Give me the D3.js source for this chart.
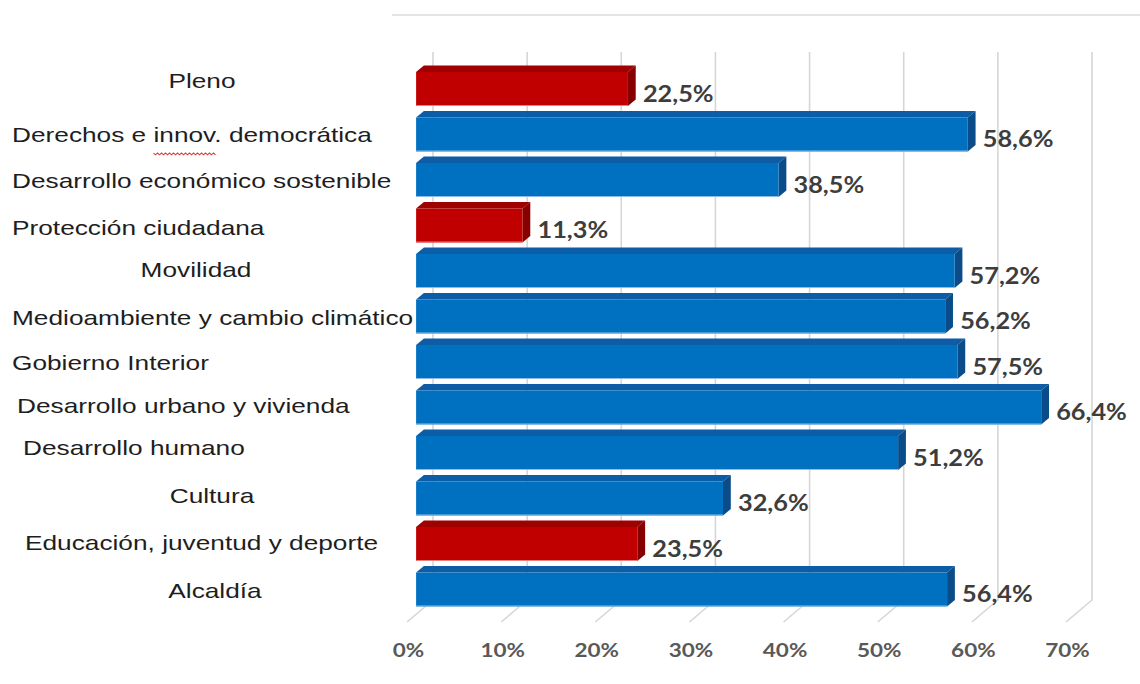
<!DOCTYPE html>
<html>
<head>
<meta charset="utf-8">
<script src="https://cdn.jsdelivr.net/npm/d3@7"></script>
<style>
  body { margin: 0; background: #fff; }
  svg { display: block; }
</style>
</head>
<body>
<svg></svg>
<script>
// chart data
const categories = [
  'Pleno',
  'Derechos e innov. democrática',
  'Desarrollo económico sostenible',
  'Protección ciudadana',
  'Movilidad',
  'Medioambiente y cambio climático',
  'Gobierno Interior',
  'Desarrollo urbano y vivienda',
  'Desarrollo humano',
  'Cultura',
  'Educación, juventud y deporte',
  'Alcaldía'
]
const values = [22.5, 58.6, 38.5, 11.3, 57.2, 56.2, 57.5, 66.4, 51.2, 32.6, 23.5, 56.4]
// red bars are the low ones
const groups = ['low', 'high', 'high', 'low', 'high', 'high', 'high', 'high', 'high', 'high', 'low', 'high']
const tickValues = [0, 10, 20, 30, 40, 50, 60, 70]

// where each category label sits (the labels were placed by hand in the original)
const labelLayout = [
  { anchor: 'middle', x: 202, dy: -1 },
  { anchor: 'start', x: 12, dy: 7.5 },
  { anchor: 'start', x: 12, dy: 8 },
  { anchor: 'start', x: 12, dy: 9.5 },
  { anchor: 'middle', x: 196, dy: 6 },
  { anchor: 'start', x: 12, dy: 8.5 },
  { anchor: 'start', x: 12, dy: 8 },
  { anchor: 'start', x: 17, dy: 5.5 },
  { anchor: 'start', x: 23, dy: 2 },
  { anchor: 'middle', x: 212, dy: 4.5 },
  { anchor: 'start', x: 25, dy: 6 },
  { anchor: 'middle', x: 215, dy: 8.5 }
]

const width = 1140
const height = 684

// 3d box: back wall origin and floor depth
const backX = 433
const wallTop = 52
const wallBottom = 600
const depthDX = -26
const depthDY = 22
const barZ0 = 0.35
const barZ1 = 0.65

const colors = {
  high: { front: '#0070c0', top: '#0d5ca6', side: '#0a4c8a', edge: '#8cbdea' },
  low: { front: '#c00000', top: '#a00000', side: '#860000', edge: '#e88080' }
}

const svg = d3.select('svg').attr('width', width).attr('height', height)

const xScale = d3.scaleLinear().domain([0, 70]).range([0, 659])
const yScale = d3.scaleBand()
  .domain(categories)
  .range([66.25, 612.25])
  .paddingInner(0.253)
  .paddingOuter(0.1265)

let px = (v, z) => backX + xScale(v) + z * depthDX

// thin line at the very top
svg.append('line')
  .attr('x1', 392).attr('x2', width)
  .attr('y1', 15).attr('y2', 15)
  .attr('stroke', '#e4e4e4')
  .attr('stroke-width', 2)

// back wall grid + floor lines
let grid = svg.append('g')
grid.selectAll('path')
  .data(tickValues)
  .enter()
  .append('path')
  .attr('d', (t) => {
    let xb = px(t, 0)
    return 'M' + xb + ',' + wallTop + 'L' + xb + ',' + wallBottom +
      'L' + px(t, 1) + ',' + (wallBottom + depthDY)
  })
  .attr('fill', 'none')
  .attr('stroke', '#d6d6d6')
  .attr('stroke-width', 1.6)

// bars
let rows = values.map((v, i) => ({ name: categories[i], value: v, group: groups[i] }))
let shift = (barZ1 - barZ0) * depthDY

let bars = svg.append('g').selectAll('g')
  .data(rows)
  .enter()
  .append('g')

// top face
bars.append('path')
  .attr('d', (d) => {
    let y = yScale(d.name)
    let x0 = px(0, barZ1), x1 = px(d.value, barZ1)
    let bx0 = px(0, barZ0), bx1 = px(d.value, barZ0)
    return 'M' + x0 + ',' + y + 'L' + bx0 + ',' + (y - shift) +
      'L' + bx1 + ',' + (y - shift) + 'L' + x1 + ',' + y + 'Z'
  })
  .attr('fill', (d) => colors[d.group].top)

// side face
bars.append('path')
  .attr('d', (d) => {
    let y = yScale(d.name)
    let h = yScale.bandwidth()
    let x1 = px(d.value, barZ1), bx1 = px(d.value, barZ0)
    return 'M' + x1 + ',' + y + 'L' + bx1 + ',' + (y - shift) +
      'L' + bx1 + ',' + (y + h - shift) + 'L' + x1 + ',' + (y + h) + 'Z'
  })
  .attr('fill', (d) => colors[d.group].side)

// front face
bars.append('rect')
  .attr('x', px(0, barZ1))
  .attr('y', (d) => yScale(d.name))
  .attr('width', (d) => xScale(d.value))
  .attr('height', yScale.bandwidth())
  .attr('fill', (d) => colors[d.group].front)

// light edge along the bottom of each bar
bars.append('line')
  .attr('x1', px(0, barZ1))
  .attr('x2', (d) => px(d.value, barZ1))
  .attr('y1', (d) => yScale(d.name) + yScale.bandwidth() - 0.5)
  .attr('y2', (d) => yScale(d.name) + yScale.bandwidth() - 0.5)
  .attr('stroke', (d) => colors[d.group].edge)
  .attr('stroke-width', 1.2)

// value labels
svg.append('g').selectAll('text')
  .data(rows)
  .enter()
  .append('text')
  .attr('transform', (d) => 'translate(' + (px(d.value, barZ1) + 15) + ',' +
    (yScale(d.name) + yScale.bandwidth() / 2 + 12.5) + ') scale(1.1,1)')
  .attr('font-family', 'Lato, sans-serif')
  .attr('font-weight', 'bold')
  .attr('font-size', 23)
  .attr('fill', '#3d3d3d')
  .text((d) => d.value.toFixed(1).replace('.', ',') + '%')

// x axis labels at the front edge of the floor
let xAxis = d3.axisBottom(xScale)
  .tickValues(tickValues)
  .tickFormat((t) => t + '%')
  .tickSize(0)

let axisG = svg.append('g')
  .attr('transform', 'translate(' + (px(0, 1) + 1) + ',657)')
  .call(xAxis)
axisG.select('.domain').remove()
axisG.selectAll('text')
  .attr('y', 0)
  .attr('dy', 0)
  .attr('transform', 'scale(1.25,1)')
  .attr('font-family', 'Lato, sans-serif')
  .attr('font-weight', 'bold')
  .attr('font-size', 18)
  .attr('fill', '#595959')

// category labels
let catLabels = svg.append('g').selectAll('text')
  .data(rows)
  .enter()
  .append('text')
  .attr('transform', (d, i) => 'translate(' + labelLayout[i].x + ',' +
    (yScale(d.name) + yScale.bandwidth() / 2 + labelLayout[i].dy) + ') scale(1.25,1)')
  .attr('text-anchor', (d, i) => labelLayout[i].anchor)
  .attr('font-family', '"Liberation Sans", Arial, sans-serif')
  .attr('font-size', 21)
  .attr('fill', '#1e1e1e')
  .text((d) => d.name)

// red spell-check squiggle under "innov"
let derechos = catLabels.filter((d) => d.name.indexOf('innov.') >= 0)
derechos.each(function (d) {
  let node = this
  let start = d.name.indexOf('innov')
  let xa = node.getStartPositionOfChar(start).x
  let xb = node.getEndPositionOfChar(start + 4).x
  let parent = d3.select(node.parentNode)
  let pts = []
  for (let x = xa, k = 0; x <= xb + 1; x += 1.6, k++) {
    pts.push([x, 11 + (k % 2 === 0 ? 0 : 1.8)])
  }
  parent.append('path')
    .attr('transform', node.getAttribute('transform'))
    .attr('d', d3.line()(pts))
    .attr('fill', 'none')
    .attr('stroke', '#e0403a')
    .attr('stroke-width', 1)
})
</script>
</body>
</html>
